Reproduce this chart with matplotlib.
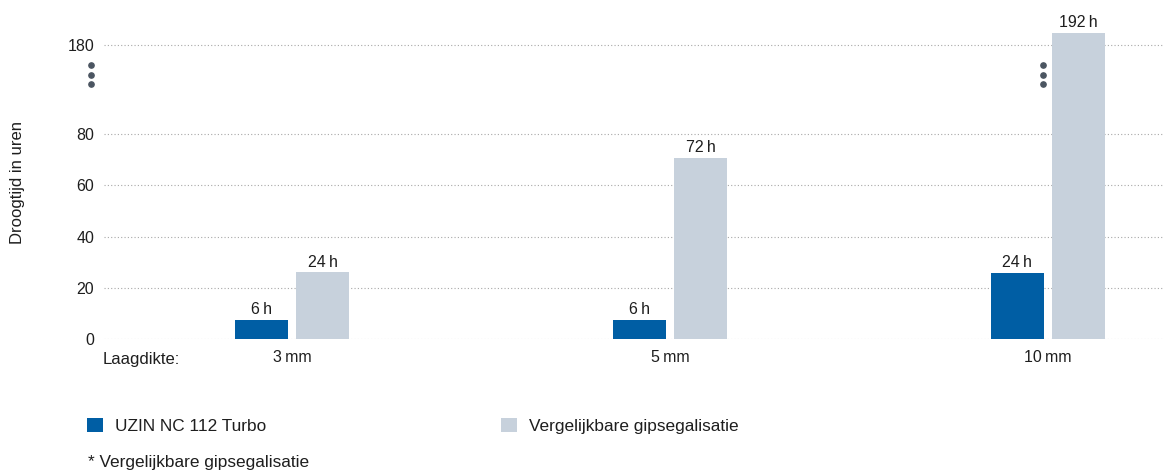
import numpy as np
import matplotlib
matplotlib.use("Agg")
import matplotlib.pyplot as plt

plt.rcParams['font.family'] = ['Liberation Sans', 'DejaVu Sans']
plt.rcParams['font.size'] = 11.5

# data
thickness = ["3\u2009mm", "5\u2009mm", "10\u2009mm"]
series_names = ["UZIN NC 112 Turbo", "Vergelijkbare gipsegalisatie"]
uzin_hours = [6, 6, 24]
gips_hours = [24, 72, 192]
# bar heights as drawn in the original (slightly off the labelled values)
uzin_drawn = [7.4, 7.4, 25.8]
gips_drawn = [26.0, 70.7, 194.0]
yticks = [0, 20, 40, 60, 80, 180]
footnote = "* Vergelijkbare gipsegalisatie"

blue = "#005ea4"
grey = "#c7d1dc"
txt = "#1e1e1e"
dotc = "#4b5561"

# broken axis: linear up to 80, compressed above
BREAK = 80
K = 0.3477


def fwd(y):
    y = np.asarray(y, dtype=float)
    return np.where(y <= BREAK, y, BREAK + (y - BREAK) * K)


def inv(y):
    y = np.asarray(y, dtype=float)
    return np.where(y <= BREAK, y, BREAK + (y - BREAK) / K)


fig = plt.figure(figsize=(11.66, 4.71), dpi=100)
ax = fig.add_axes([104 / 1166, 132 / 471, 1060 / 1166, 324 / 471])
ax.set_yscale('function', functions=(fwd, inv))

x = np.arange(len(thickness))
w = 0.14
off = 0.081
b1 = ax.bar(x - off, uzin_drawn, w, color=blue, zorder=3)
b2 = ax.bar(x + off, gips_drawn, w, color=grey, zorder=3)
ax.bar_label(b1, labels=[f"{v}\u2009h" for v in uzin_hours], padding=2, color=txt, fontsize=11.5)
ax.bar_label(b2, labels=[f"{v}\u2009h" for v in gips_hours], padding=2, color=txt, fontsize=11.5)

ax.set_xlim(-0.497, 2.307)
ax.set_ylim(0, 214)
ax.set_yticks(yticks)
ax.set_xticks(x)
ax.set_xticklabels(thickness, color=txt)
ax.tick_params(axis='both', length=0, colors=txt, labelsize=11.5)
ax.tick_params(axis='y', pad=7)
ax.tick_params(axis='x', pad=8)
ax.yaxis.grid(True, linestyle=(0, (1, 2)), color="#a8a8a8", linewidth=0.8)
ax.set_axisbelow(True)
for s in ax.spines.values():
    s.set_visible(False)

ax.text(-0.001, -0.063, "Laagdikte:", transform=ax.transAxes, ha='left', va='center',
        color=txt, fontsize=12)

# axis break markers
brk_y = [136.4, 146.4, 157.7]
ax.plot([-0.0123] * 3, brk_y, 'o', color=dotc, markersize=3.8,
        transform=ax.get_yaxis_transform(), clip_on=False, zorder=4)
ax.plot([2 - 0.0135] * 3, brk_y, 'o', color=dotc, markersize=3.8, clip_on=False, zorder=4)

fig.text(18 / 1166, 1 - 182 / 471, "Droogtijd in uren", rotation=90, ha='center', va='center',
         color=txt, fontsize=12)

fig.legend([b1, b2], series_names, ncol=2, loc='center left', frameon=False,
           bbox_to_anchor=(87 / 1166, 1 - 426 / 471), borderpad=0, borderaxespad=0,
           handlelength=0.94, handleheight=0.9, handletextpad=0.7,
           columnspacing=13.6, fontsize=12.4, labelcolor=txt)

fig.text(88 / 1166, 1 - 463 / 471, footnote, ha='left', va='center', color=txt, fontsize=12.4)

fig.savefig("out.png", dpi=100)
